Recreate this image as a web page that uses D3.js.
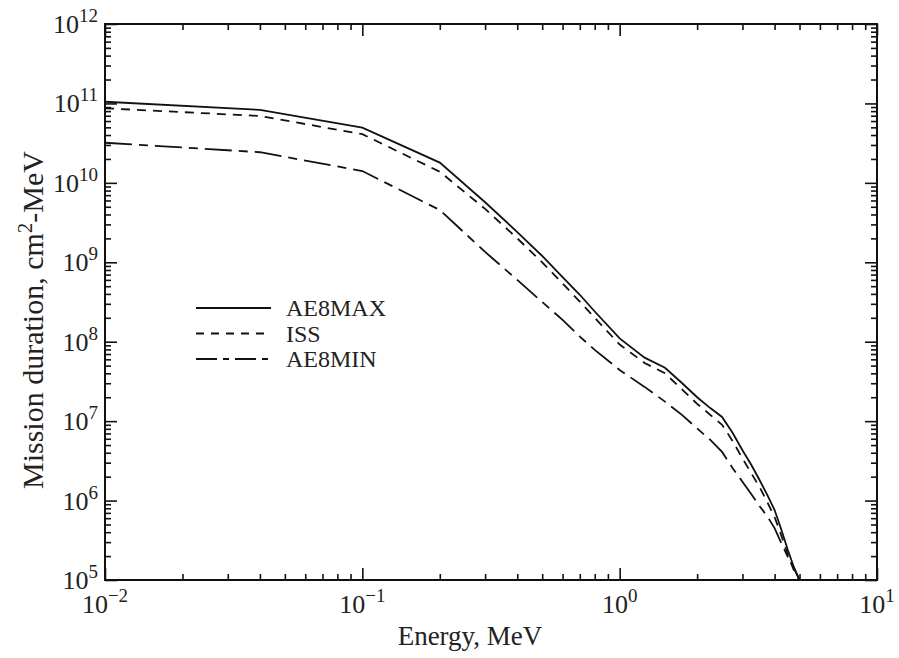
<!DOCTYPE html>
<html>
<head>
<meta charset="utf-8">
<script src="https://cdn.jsdelivr.net/npm/d3@7"></script>
<style>
  body { margin: 0; background: #fff; }
  svg text { font-family: "Liberation Serif", "DejaVu Serif", serif; fill: #222; }
</style>
</head>
<body>
<div id="chart"></div>
<script>
// Mission fluence vs electron energy (log-log)

// data
const energy = [0.01, 0.04, 0.1, 0.2, 0.3, 0.4, 0.5, 0.6, 0.7, 0.8, 1.0, 1.25, 1.5, 1.75,
  2.0, 2.25, 2.5, 2.75, 3.0, 3.25, 3.5, 3.75, 4.0, 4.25, 4.5, 4.75, 5.0];
const ae8max = [1.05e11, 8.3e10, 4.95e10, 1.8e10, 5.7e9, 2.4e9, 1.2e9, 6.5e8, 3.9e8, 2.4e8,
  1.1e8, 6.3e7, 4.7e7, 3.0e7, 2.0e7, 1.46e7, 1.13e7, 7.1e6, 4.3e6, 2.8e6, 1.8e6, 1.17e6,
  7.6e5, 4.3e5, 2.4e5, 1.46e5, 1.0e5];
const iss = [8.7e10, 6.95e10, 4.1e10, 1.38e10, 4.7e9, 2.0e9, 1.0e9, 5.4e8, 3.2e8, 2.0e8,
  9.2e7, 5.4e7, 4.0e7, 2.5e7, 1.65e7, 1.2e7, 9.0e6, 5.6e6, 3.4e6, 2.2e6, 1.47e6, 9.5e5,
  6.2e5, 3.6e5, 2.1e5, 1.33e5, 1.0e5];
const ae8min = [3.2e10, 2.43e10, 1.41e10, 4.55e9, 1.35e9, 6.0e8, 3.16e8, 1.88e8, 1.16e8, 7.9e7,
  4.4e7, 2.7e7, 1.76e7, 1.19e7, 8.1e6, 5.8e6, 4.1e6, 2.55e6, 1.73e6, 1.2e6, 8.5e5, 6.3e5,
  4.5e5, 2.9e5, 1.96e5, 1.41e5, 1.0e5];
const seriesNames = ["AE8MAX", "ISS", "AE8MIN"];
const xExponents = [-2, -1, 0, 1];
const yExponents = [5, 6, 7, 8, 9, 10, 11, 12];

const W = 899, H = 658;
const margin = {left: 105, right: 22, top: 24, bottom: 78};
const plotW = W - margin.left - margin.right;
const plotH = H - margin.top - margin.bottom;

const svg = d3.select("#chart").append("svg")
  .attr("width", W).attr("height", H);
const g = svg.append("g").attr("transform", `translate(${margin.left},${margin.top})`);

const x = d3.scaleLog().domain([1e-2, 1e1]).range([0, plotW]);
const y = d3.scaleLog().domain([1e5, 1e12]).range([plotH, 0]);

// all decade + 2..9 minor positions
function logTicks(lo, hi) {
  let t = [];
  for (let e = lo; e < hi; e++) {
    for (let m = 1; m < 10; m++) t.push(m * Math.pow(10, e));
  }
  t.push(Math.pow(10, hi));
  return t;
}
function isMajor(v) {
  let l = Math.log10(v);
  return Math.abs(l - Math.round(l)) < 1e-9;
}
const xTicks = logTicks(-2, 1);
const yTicks = logTicks(5, 12);

function styleTicks(sel) {
  sel.select(".domain").remove();
  sel.selectAll(".tick text").remove();
  sel.selectAll(".tick line").attr("stroke", "#111").attr("stroke-width", 1.6);
}

// bottom / top / left / right ticks, all pointing inside
const axB = g.append("g").attr("transform", `translate(0,${plotH})`)
  .call(d3.axisBottom(x).tickValues(xTicks).tickSize(0));
axB.call(styleTicks);
axB.selectAll(".tick line").attr("y2", d => isMajor(d) ? -12 : -6);

const axT = g.append("g")
  .call(d3.axisTop(x).tickValues(xTicks).tickSize(0));
axT.call(styleTicks);
axT.selectAll(".tick line").attr("y2", d => isMajor(d) ? 12 : 6);

const axL = g.append("g")
  .call(d3.axisLeft(y).tickValues(yTicks).tickSize(0));
axL.call(styleTicks);
axL.selectAll(".tick line").attr("x2", d => isMajor(d) ? 12 : 6);

const axR = g.append("g").attr("transform", `translate(${plotW},0)`)
  .call(d3.axisRight(y).tickValues(yTicks).tickSize(0));
axR.call(styleTicks);
axR.selectAll(".tick line").attr("x2", d => isMajor(d) ? -12 : -6);

// frame
g.append("rect").attr("width", plotW).attr("height", plotH)
  .attr("fill", "none").attr("stroke", "#111").attr("stroke-width", 2);

// tick labels: 10 with superscript exponent
function powerLabel(sel, e) {
  sel.append("tspan").text("10");
  sel.append("tspan").attr("dy", -11).attr("font-size", 19)
    .text(e < 0 ? "\u2212" + (-e) : e);
}
xExponents.forEach(e => {
  let t = g.append("text")
    .attr("x", x(Math.pow(10, e))).attr("y", plotH + 33)
    .attr("text-anchor", "middle").attr("font-size", 26);
  powerLabel(t, e);
});
yExponents.forEach(e => {
  let t = g.append("text")
    .attr("x", -7).attr("y", y(Math.pow(10, e)) + 9)
    .attr("text-anchor", "end").attr("font-size", 26);
  powerLabel(t, e);
});

// axis titles
g.append("text")
  .attr("x", 470 - margin.left).attr("y", plotH + 65)
  .attr("text-anchor", "middle").attr("font-size", 27)
  .text("Energy, MeV");

const yt = svg.append("text")
  .attr("transform", "translate(43,151) rotate(-90)")
  .attr("text-anchor", "end").attr("font-size", 30);
yt.append("tspan").text("Mission duration, cm");
yt.append("tspan").attr("dy", -11).attr("font-size", 21).text("2");
yt.append("tspan").attr("dy", 11).text("-MeV");

// curves
const seriesData = [ae8max, iss, ae8min];
const dashes = [null, "9,7", "27,7,9,7"];
const line = d3.line()
  .x(d => x(d[0]))
  .y(d => y(d[1]));

g.append("clipPath").attr("id", "clip")
  .append("rect").attr("width", plotW).attr("height", plotH);

seriesData.forEach((vals, i) => {
  g.append("path")
    .datum(energy.map((e, k) => [e, vals[k]]))
    .attr("clip-path", "url(#clip)")
    .attr("fill", "none")
    .attr("stroke", "#111")
    .attr("stroke-width", 1.8)
    .attr("stroke-dasharray", dashes[i])
    .attr("d", line);
});

// legend
const legend = svg.append("g").attr("transform", "translate(196,308)");
seriesNames.forEach((name, i) => {
  let row = legend.append("g").attr("transform", `translate(0,${i * 25.5})`);
  row.append("line")
    .attr("x1", 0).attr("x2", 75)
    .attr("stroke", "#111").attr("stroke-width", 1.8)
    .attr("stroke-dasharray", [null, "8,7", "21,6,6,6"][i]);
  row.append("text")
    .attr("x", 90).attr("y", 8)
    .attr("font-size", 24)
    .text(name);
});
</script>
</body>
</html>
